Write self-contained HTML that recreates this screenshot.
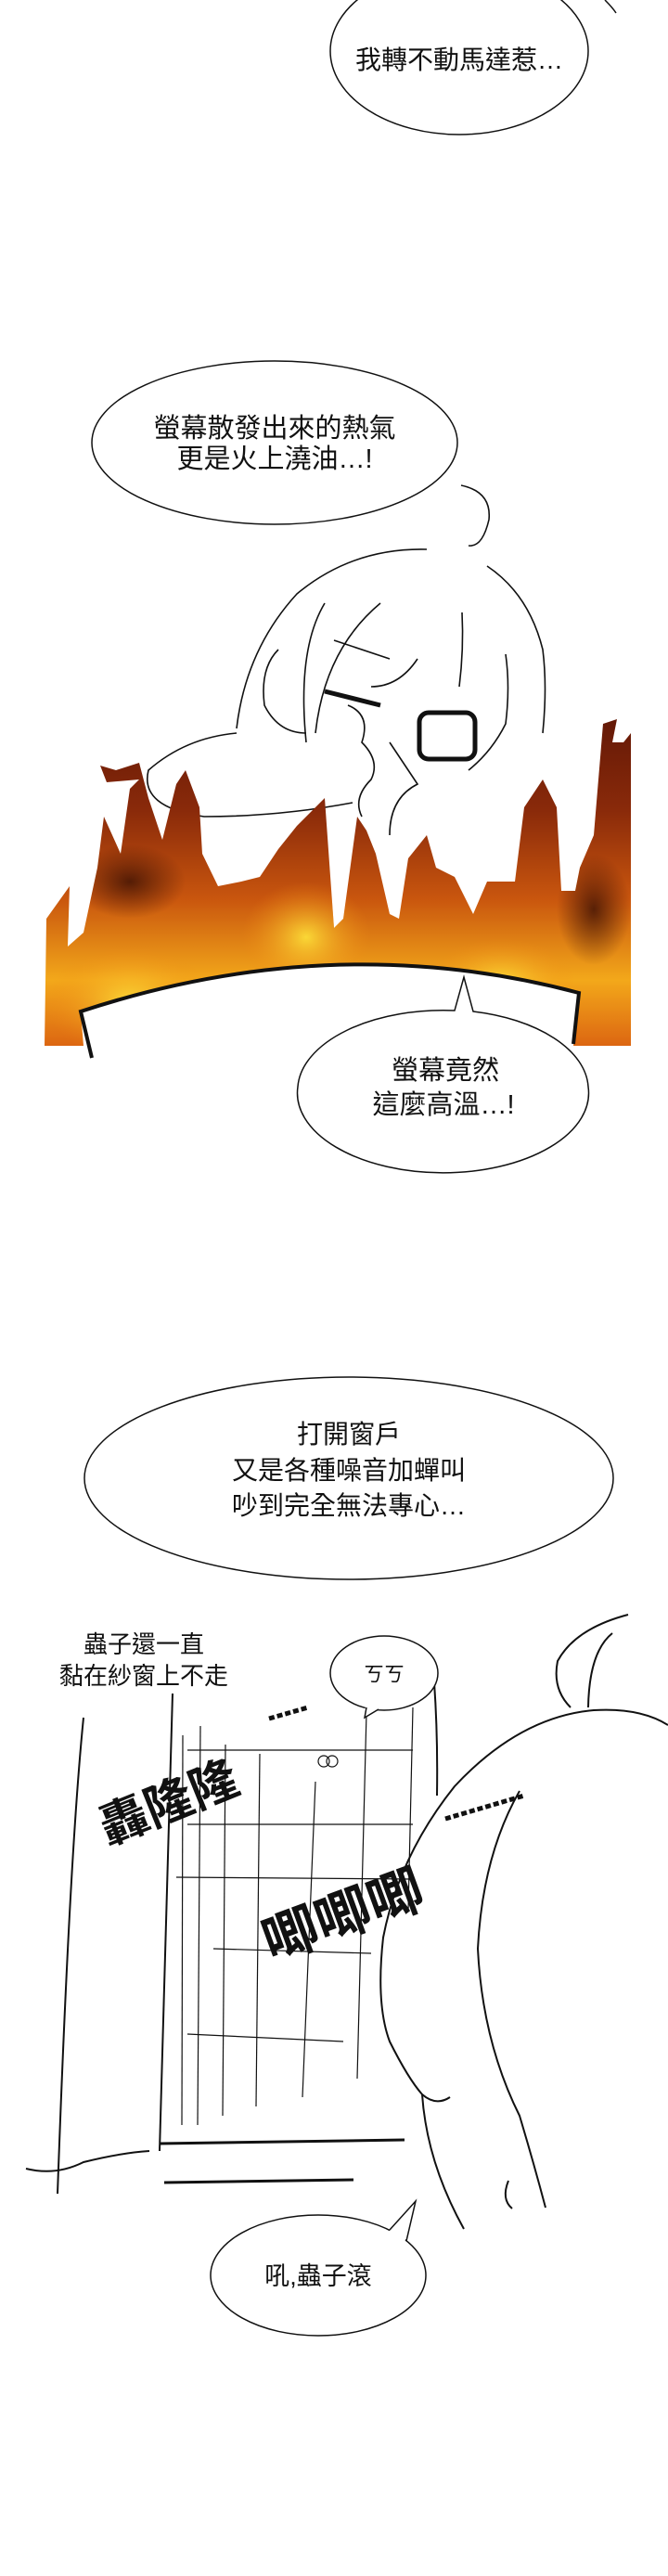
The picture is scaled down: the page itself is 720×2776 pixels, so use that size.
<!DOCTYPE html>
<html><head><meta charset="utf-8"><style>
html,body{margin:0;padding:0;background:#fff}
svg{display:block}
text{font-family:"Liberation Sans","Noto Sans CJK TC",sans-serif;fill:#111}
</style></head><body>
<svg width="720" height="2776" viewBox="0 0 720 2776" xmlns="http://www.w3.org/2000/svg">
<defs>
<linearGradient id="fg" x1="0" y1="0" x2="0" y2="1">
<stop offset="0" stop-color="#5e1606"/>
<stop offset="0.3" stop-color="#8a2a0a"/>
<stop offset="0.55" stop-color="#c9560e"/>
<stop offset="0.78" stop-color="#f3a81a"/>
<stop offset="1" stop-color="#d85a10"/>
</linearGradient>
<radialGradient id="fy" cx="0.5" cy="0.5" r="0.5">
<stop offset="0" stop-color="#fde23a" stop-opacity="0.9"/>
<stop offset="1" stop-color="#f08a14" stop-opacity="0"/>
</radialGradient>
<radialGradient id="fd" cx="0.5" cy="0.5" r="0.5">
<stop offset="0" stop-color="#3a1004" stop-opacity="0.8"/>
<stop offset="1" stop-color="#4a1404" stop-opacity="0"/>
</radialGradient>
<clipPath id="fc"><path d="M48,1127 L50,990 L75,955 L73,1020 L90,1005 L105,935 L112,880 L130,920 L140,850 L150,840 L115,843 L108,825 L125,830 L150,822 L160,860 L175,905 L190,845 L200,830 L215,870 L218,920 L235,955 L260,950 L280,945 L300,915 L320,890 L340,870 L350,860 L360,1000 L370,990 L385,880 L395,895 L405,920 L420,985 L430,990 L440,925 L460,900 L470,935 L490,945 L510,985 L525,950 L555,950 L565,870 L585,840 L600,870 L605,960 L620,960 L625,935 L640,900 L650,780 L665,775 L660,800 L672,800 L680,790 L680,1127 Z"/></clipPath>
</defs>

<ellipse cx="495" cy="55" rx="139" ry="90" fill="#fff" stroke="#111" stroke-width="1.5"/>
<path d="M652,0 Q660,8 664,14" fill="none" stroke="#111" stroke-width="1.5"/>
<text x="495" y="74" font-size="28" text-anchor="middle">我轉不動馬達惹…</text>

<g fill="none" stroke="#111" stroke-width="1.6">
<path d="M497,523 Q530,530 527,560 Q520,590 505,588"/>
<path d="M460,592 Q380,590 320,640 Q265,700 255,785"/>
<path d="M525,610 Q570,640 585,700 Q590,740 585,790"/>
<path d="M300,700 Q280,720 285,760 Q300,790 330,790"/>
<path d="M350,650 Q320,700 330,800"/>
<path d="M410,650 Q350,700 340,790"/>
<path d="M360,690 L420,710"/>
<path d="M498,660 Q500,700 495,740"/>
<path d="M545,705 Q550,740 545,780 Q530,810 505,830"/>
<path d="M450,710 Q430,740 400,740"/>
<path d="M255,790 Q200,795 160,830 Q150,870 220,880 Q300,880 380,865"/>
<path d="M375,760 Q400,770 390,800 Q410,820 400,840 Q380,860 390,880"/>
<path d="M420,800 Q440,830 450,845 Q420,860 420,900"/>
</g>
<rect x="452" y="768" width="60" height="50" rx="10" fill="none" stroke="#111" stroke-width="5"/>
<path d="M350,745 L410,760" stroke="#111" stroke-width="5"/>

<g clip-path="url(#fc)">
<rect x="40" y="760" width="650" height="380" fill="url(#fg)"/>
<ellipse cx="140" cy="1080" rx="90" ry="60" fill="url(#fy)"/>
<ellipse cx="330" cy="1010" rx="70" ry="60" fill="url(#fy)"/>
<ellipse cx="540" cy="1060" rx="80" ry="50" fill="url(#fy)"/>
<ellipse cx="140" cy="950" rx="60" ry="40" fill="url(#fd)"/>
<ellipse cx="640" cy="980" rx="40" ry="60" fill="url(#fd)"/>
</g>
<path d="M87,1090 Q360,1000 624,1070 L618,1127 L90,1127 Z" fill="#fff"/>
<path d="M99,1140 L87,1090 Q360,1000 624,1070 L618,1125" fill="none" stroke="#111" stroke-width="4"/>

<ellipse cx="296" cy="477" rx="197" ry="88" fill="#fff" stroke="#111" stroke-width="1.5"/>
<text x="296" y="471" font-size="29" text-anchor="middle">螢幕散發出來的熱氣</text>
<text x="296" y="504" font-size="29" text-anchor="middle">更是火上澆油…!</text>

<path d="M321,1171 A157,86 0 1 0 634,1171 A157,86 0 0 0 510,1090 L500,1053 L490,1089 A157,86 0 0 0 321,1171 Z" fill="#fff" stroke="#111" stroke-width="1.5"/>
<text x="480" y="1163" font-size="29" text-anchor="middle">螢幕竟然</text>
<text x="478" y="1200" font-size="29" text-anchor="middle">這麼高溫…!</text>

<ellipse cx="376" cy="1593" rx="285" ry="109" fill="#fff" stroke="#111" stroke-width="1.5"/>
<text x="376" y="1555" font-size="28" text-anchor="middle">打開窗戶</text>
<text x="376" y="1594" font-size="28" text-anchor="middle">又是各種噪音加蟬叫</text>
<text x="376" y="1632" font-size="28" text-anchor="middle">吵到完全無法專心…</text>

<text x="155" y="1781" font-size="26" text-anchor="middle">蟲子還一直</text>
<text x="155" y="1815" font-size="26" text-anchor="middle">黏在紗窗上不走</text>

<g fill="none" stroke="#111" stroke-width="2">
<path d="M90,1851 Q75,2000 62,2364"/>
<path d="M28,2337 Q60,2345 90,2330 Q130,2320 161,2318"/>
<path d="M186,1825 Q180,2000 172,2318"/>
<path d="M468,1813 Q472,1870 471,1935"/>
<path d="M172,2310 L436,2306" stroke-width="3"/>
<path d="M177,2352 L381,2349" stroke-width="3"/>
</g>
<g fill="none" stroke="#111" stroke-width="1.2">
<path d="M197,1870 L196,2290"/><path d="M216,1860 L213,2290"/><path d="M243,1880 L240,2280"/><path d="M280,1890 L276,2270"/><path d="M340,1920 L326,2260"/><path d="M395,1845 L385,2240"/><path d="M445,1840 L440,2060"/>
<path d="M202,1886 L445,1886"/><path d="M202,1966 L445,1966"/><path d="M190,2023 L445,2025"/><path d="M230,2100 L400,2105"/><path d="M202,2192 L370,2200"/>
<circle cx="349" cy="1898" r="6"/><circle cx="358" cy="1898" r="6"/>
</g>

<g fill="none" stroke="#111" stroke-width="2">
<path d="M677,1740 Q620,1755 601,1790 Q595,1820 615,1840"/>
<path d="M660,1760 Q635,1780 634,1840"/>
<path d="M720,1859 Q690,1840 640,1843 Q560,1850 490,1925 Q430,2000 413,2088 Q405,2160 420,2200 Q440,2240 455,2257 Q460,2330 500,2402"/>
<path d="M560,1930 Q520,2000 515,2100 Q520,2200 560,2280 Q575,2330 588,2379"/>
<path d="M455,2257 Q470,2270 485,2260"/>
<path d="M548,2350 Q540,2370 552,2380"/>
</g>

<text x="185" y="1960" font-size="52" font-weight="bold" text-anchor="middle" transform="rotate(-22 185 1950)">轟隆隆</text>
<path d="M290,1852 L332,1840" stroke="#111" stroke-width="5" stroke-dasharray="6 3"/>
<text x="370" y="2085" font-size="60" font-weight="bold" text-anchor="middle" transform="rotate(-20 370 2065)">唧唧唧</text>
<path d="M480,1960 L565,1935" stroke="#111" stroke-width="5" stroke-dasharray="6 3"/>

<!-- ㄎㄎ bubble -->
<ellipse cx="414" cy="1803" rx="58" ry="40" fill="#fff" stroke="#111" stroke-width="1.5"/>
<path d="M394,1838 L393,1851 L410,1840 Z" fill="#fff"/>
<path d="M395,1840 L393,1851 L408,1842" fill="none" stroke="#111" stroke-width="1.5"/>
<text x="414" y="1812" font-size="22" text-anchor="middle">ㄎㄎ</text>

<!-- bubble 5 -->
<ellipse cx="343" cy="2452" rx="116" ry="65" fill="#fff" stroke="#111" stroke-width="1.5"/>
<path d="M418,2406 L448,2372 L436,2417 Z" fill="#fff"/>
<path d="M420,2403 L448,2372 L438,2415" fill="none" stroke="#111" stroke-width="1.5"/>
<text x="343" y="2462" font-size="27" text-anchor="middle">吼,蟲子滾</text>
</svg>
</body></html>
